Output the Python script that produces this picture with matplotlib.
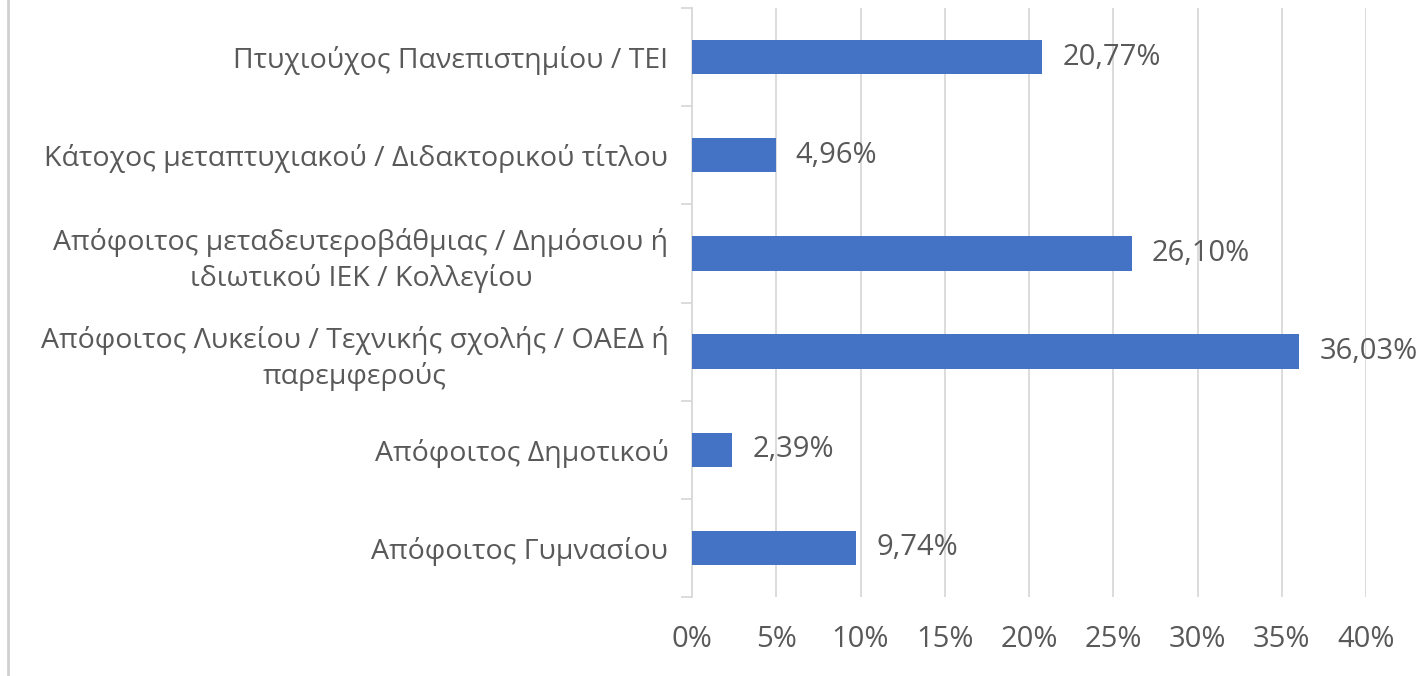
import matplotlib.pyplot as plt
from matplotlib.ticker import FuncFormatter, MultipleLocator, FixedLocator
from matplotlib.lines import Line2D

# categories, bottom to top
categories = [
    'Απόφοιτος Γυμνασίου',
    'Απόφοιτος Δημοτικού',
    'Απόφοιτος Λυκείου / Τεχνικής σχολής / ΟΑΕΔ ή\nπαρεμφερούς',
    'Απόφοιτος μεταδευτεροβάθμιας / Δημόσιου ή\nιδιωτικού ΙΕΚ / Κολλεγίου',
    'Κάτοχος μεταπτυχιακού / Διδακτορικού τίτλου',
    'Πτυχιούχος Πανεπιστημίου / ΤΕΙ',
]
values = [9.74, 2.39, 36.03, 26.10, 4.96, 20.77]
value_labels = ['9,74%', '2,39%', '36,03%', '26,10%', '4,96%', '20,77%']

plt.rcParams['font.family'] = ['Open Sans', 'DejaVu Sans']
text_color = '#595959'
bar_color = '#4472C4'

fig = plt.figure(figsize=(14.24, 6.76), dpi=100)
ax = fig.add_axes([692 / 1424, 1 - 597 / 676, (1366 - 692) / 1424, (597 - 8) / 676])

y = range(len(categories))
ax.barh(y, values, height=0.35, color=bar_color, zorder=3)

for yi, v, lab in zip(y, values, value_labels):
    ax.text(v + 1.2, yi, lab, va='center', ha='left', fontsize=21, color=text_color)

ax.set_xlim(0, 40)
ax.set_ylim(-0.5, len(categories) - 0.5)
ax.xaxis.set_major_locator(MultipleLocator(5))
ax.xaxis.set_major_formatter(FuncFormatter(lambda x, p: f'{x:.0f}%'))
ax.grid(axis='x', color='#d9d9d9', linewidth=1.3, zorder=0)

ax.set_yticks(list(y))
ax.set_yticklabels(categories, fontsize=20.5, color=text_color, linespacing=1.3)
ax.yaxis.set_minor_locator(FixedLocator([i - 0.5 for i in range(len(categories) + 1)]))
ax.tick_params(axis='y', which='major', length=0, pad=17)
ax.tick_params(axis='y', which='minor', length=8, color='#d9d9d9', width=1.3)
ax.tick_params(axis='x', length=0, pad=20, labelsize=21, labelcolor=text_color)

for s in ['top', 'right', 'bottom']:
    ax.spines[s].set_visible(False)
ax.spines['left'].set_color('#d9d9d9')
ax.spines['left'].set_linewidth(1.3)

for lab in ax.get_yticklabels():
    lab.set_horizontalalignment('right')
    lab.set_multialignment('center')

# chart border on the left
fig.add_artist(Line2D([8 / 1424, 8 / 1424], [0, 1], color='#d0d0d0', linewidth=2,
                      transform=fig.transFigure))

fig.savefig('out.png', dpi=100)
